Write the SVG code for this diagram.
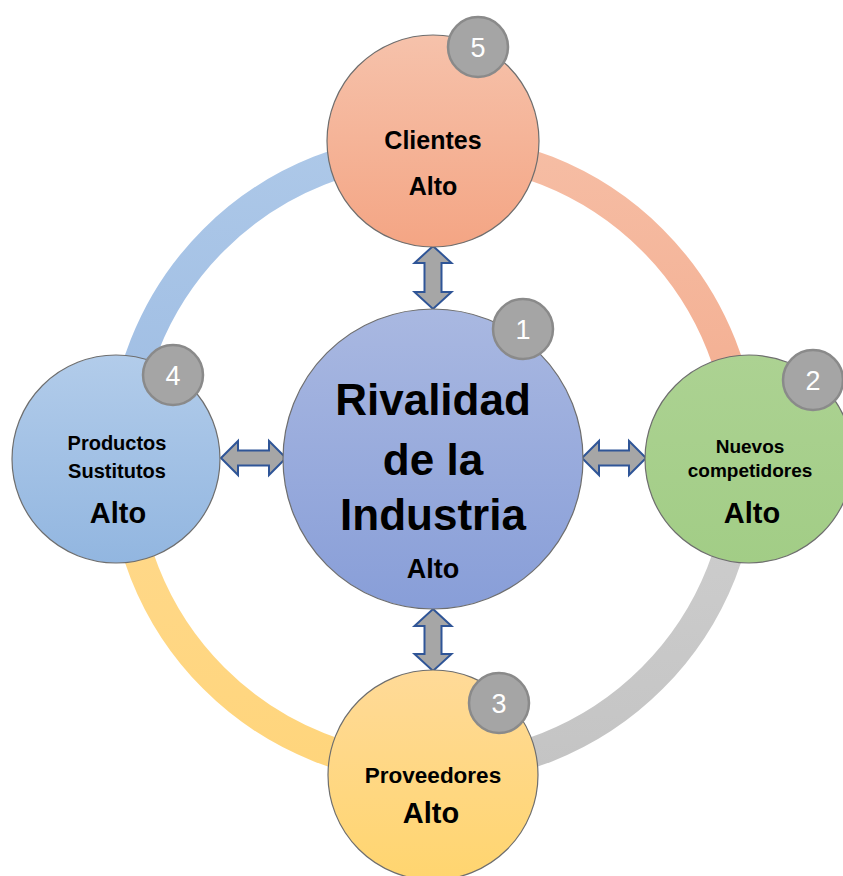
<svg xmlns="http://www.w3.org/2000/svg" width="843" height="876" viewBox="0 0 843 876">
<defs>
<linearGradient id="gTop" x1="0" y1="0" x2="0" y2="1"><stop offset="0" stop-color="#F6C2AB"/><stop offset="1" stop-color="#F4A584"/></linearGradient>
<linearGradient id="gCenter" x1="0" y1="0" x2="0" y2="1"><stop offset="0" stop-color="#A9B8E1"/><stop offset="1" stop-color="#889ED8"/></linearGradient>
<linearGradient id="gRight" x1="0" y1="0" x2="0" y2="1"><stop offset="0" stop-color="#ACD292"/><stop offset="1" stop-color="#A2CD86"/></linearGradient>
<linearGradient id="gLeft" x1="0" y1="0" x2="0" y2="1"><stop offset="0" stop-color="#B2CCEA"/><stop offset="1" stop-color="#92B6E0"/></linearGradient>
<linearGradient id="gBottom" x1="0" y1="0" x2="0" y2="1"><stop offset="0" stop-color="#FFDA98"/><stop offset="1" stop-color="#FFD56F"/></linearGradient>
<linearGradient id="aTR" gradientUnits="userSpaceOnUse" x1="0" y1="149" x2="0" y2="459"><stop offset="0" stop-color="#F6BDA4"/><stop offset="1" stop-color="#F3AC8E"/></linearGradient>
<linearGradient id="aBR" gradientUnits="userSpaceOnUse" x1="0" y1="459" x2="0" y2="769"><stop offset="0" stop-color="#CFCFCF"/><stop offset="1" stop-color="#C4C4C4"/></linearGradient>
<linearGradient id="aBL" gradientUnits="userSpaceOnUse" x1="0" y1="459" x2="0" y2="769"><stop offset="0" stop-color="#FFD98D"/><stop offset="1" stop-color="#FFD57C"/></linearGradient>
<linearGradient id="aTL" gradientUnits="userSpaceOnUse" x1="0" y1="149" x2="0" y2="459"><stop offset="0" stop-color="#ADC8E8"/><stop offset="1" stop-color="#9DBCE3"/></linearGradient>
</defs>
<style>
.arc{fill:none;stroke-width:30}
.node{stroke:#6E6E6E;stroke-width:1.2}
.arrow{fill:#A6A6A6;stroke:#2F5597;stroke-width:2;stroke-linejoin:miter}
.badge circle{fill:#A5A5A5;stroke:#8A8A8A;stroke-width:2.5}
.badge text{fill:#FFFFFF;font-family:"Liberation Sans",Arial,sans-serif;font-size:27px;text-anchor:middle}
.lbl{fill:#000;font-family:"Liberation Sans",Arial,sans-serif;font-weight:bold;text-anchor:middle}
</style>
<g id="ring">
<path class="arc" stroke="url(#aTR)" d="M433,149 A310,310 0 0 1 743,459"/>
<path class="arc" stroke="url(#aBR)" d="M743,459 A310,310 0 0 1 433,769"/>
<path class="arc" stroke="url(#aBL)" d="M433,769 A310,310 0 0 1 123,459"/>
<path class="arc" stroke="url(#aTL)" d="M123,459 A310,310 0 0 1 433,149"/>
</g>
<g id="connectors">
<path class="arrow" d="M433,246 L451.5,263 L441.5,263 L441.5,292 L451.5,292 L433,309 L414.5,292 L424.5,292 L424.5,263 L414.5,263 Z"/>
<path class="arrow" d="M433,609 L451.5,626 L441.5,626 L441.5,654 L451.5,654 L433,671 L414.5,654 L424.5,654 L424.5,626 L414.5,626 Z"/>
<path class="arrow" d="M221,458 L238,441 L238,450.5 L269,450.5 L269,441 L286,458 L269,475 L269,465.5 L238,465.5 L238,475 Z"/>
<path class="arrow" d="M582,458 L599,441 L599,450.5 L629,450.5 L629,441 L646,458 L629,475 L629,465.5 L599,465.5 L599,475 Z"/>
</g>
<g id="clientes">
<circle class="node" cx="433" cy="141" r="106" fill="url(#gTop)"/>
<text class="lbl" x="433" y="149" font-size="25">Clientes</text>
<text class="lbl" x="433" y="195" font-size="25">Alto</text>
</g>
<g id="rivalidad">
<circle class="node" cx="433" cy="459" r="150" fill="url(#gCenter)"/>
<text class="lbl" x="433" y="415" font-size="44">Rivalidad</text>
<text class="lbl" x="433" y="475" font-size="44">de la</text>
<text class="lbl" x="433" y="530" font-size="44">Industria</text>
<text class="lbl" x="433" y="578" font-size="27">Alto</text>
</g>
<g id="nuevos">
<circle class="node" cx="749" cy="459" r="104" fill="url(#gRight)"/>
<text class="lbl" x="750" y="453" font-size="19">Nuevos</text>
<text class="lbl" x="750" y="477" font-size="19">competidores</text>
<text class="lbl" x="752" y="523" font-size="29">Alto</text>
</g>
<g id="productos">
<circle class="node" cx="116" cy="459" r="104" fill="url(#gLeft)"/>
<text class="lbl" x="117" y="450" font-size="20">Productos</text>
<text class="lbl" x="117" y="478" font-size="20">Sustitutos</text>
<text class="lbl" x="118" y="523" font-size="29">Alto</text>
</g>
<g id="proveedores">
<circle class="node" cx="433" cy="775" r="105" fill="url(#gBottom)"/>
<text class="lbl" x="433" y="783" font-size="22.5">Proveedores</text>
<text class="lbl" x="431" y="823" font-size="29">Alto</text>
</g>
<g id="badge1" class="badge"><circle cx="523" cy="329" r="30"/><text x="523" y="339">1</text></g>
<g id="badge2" class="badge"><circle cx="813" cy="380" r="30"/><text x="813" y="390">2</text></g>
<g id="badge3" class="badge"><circle cx="499" cy="703" r="30"/><text x="499" y="713">3</text></g>
<g id="badge4" class="badge"><circle cx="173" cy="375" r="30"/><text x="173" y="385">4</text></g>
<g id="badge5" class="badge"><circle cx="478" cy="47" r="30"/><text x="478" y="57">5</text></g>
</svg>
